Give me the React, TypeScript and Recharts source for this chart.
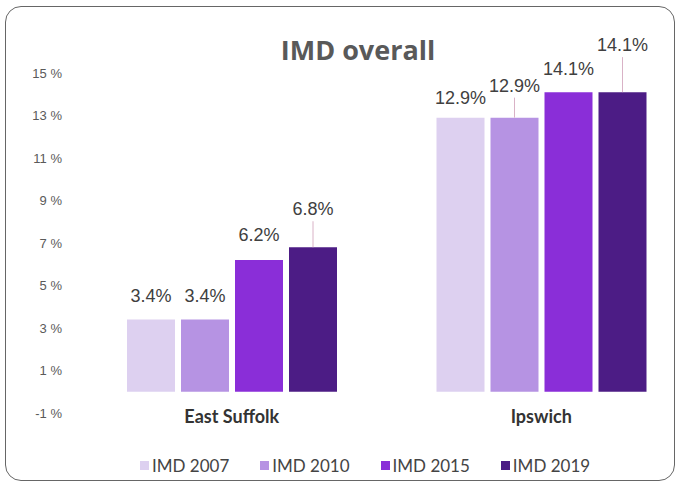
import { BarChart, Bar, XAxis, YAxis, LabelList } from "recharts";

const areas = ["East Suffolk", "Ipswich"];
const imd2007 = [3.4, 12.9];
const imd2010 = [3.4, 12.9];
const imd2015 = [6.2, 14.1];
const imd2019 = [6.8, 14.1];
const yTicks = [-1, 1, 3, 5, 7, 9, 11, 13, 15];

// lift = extra px above the bar for each label, leader line drawn when big
const series = [
  { key: "imd2007", name: "IMD 2007", color: "#ddd0f0", lift: [4, 0] },
  { key: "imd2010", name: "IMD 2010", color: "#b693e3", lift: [4, 12] },
  { key: "imd2015", name: "IMD 2015", color: "#8a2ed8", lift: [5, 3] },
  { key: "imd2019", name: "IMD 2019", color: "#4c1c85", lift: [18, 27] },
];

const data = areas.map((area, i) => ({
  area,
  imd2007: imd2007[i],
  imd2010: imd2010[i],
  imd2015: imd2015[i],
  imd2019: imd2019[i],
}));

const makeLabel = (lift: number[]) => (props: any) => {
  const { x, y, width, value, index } = props;
  const cx = x + width / 2;
  const up = lift[index] || 0;
  const base = y - 14 - up;
  return (
    <g>
      {up >= 10 && <line x1={cx} x2={cx} y1={y} y2={base + 6} stroke="#d9b2c6" strokeWidth={1} />}
      <text x={cx} y={base} textAnchor="middle" fontFamily="Liberation Sans, Arial, sans-serif" fontSize={18} fill="#404040">
        {value.toFixed(1)}%
      </text>
    </g>
  );
};

export default function App() {
  return (
    <div style={{ position: "fixed", left: 0, top: 0, width: 680, height: 487, overflow: "hidden", background: "#fff" }}>
      <div
        style={{
          position: "absolute",
          left: 5,
          top: 6,
          width: 668,
          height: 473,
          border: "1.5px solid #666",
          borderRadius: 16,
        }}
      />
      <div
        style={{
          position: "absolute",
          left: 0,
          width: 716,
          top: 31,
          textAlign: "center",
          fontFamily: "'Open Sans', sans-serif",
          fontWeight: 700,
          fontSize: 27,
          color: "#595959",
        }}
      >
        IMD overall
      </div>
      <div style={{ position: "absolute", left: 0, top: 0 }}>
        <BarChart
          width={720}
          height={487}
          data={data}
          margin={{ top: 73, right: 24, left: 0, bottom: 44 }}
          barSize={48}
          barGap={6}
        >
          <XAxis
            dataKey="area"
            height={30}
            axisLine={false}
            tickLine={false}
            tick={{ fontFamily: "Lato, sans-serif", fontWeight: 700, fontSize: 18, fill: "#333" }}
            tickMargin={-9}
          />
          <YAxis
            width={77}
            domain={[-1, 15]}
            ticks={yTicks}
            axisLine={false}
            tickLine={false}
            tickMargin={9}
            tickFormatter={(v: number) => `${v} %`}
            tick={{ fontFamily: "Liberation Sans, Arial, sans-serif", fontSize: 13, fill: "#5a5a5a" }}
          />
          {series.map((s) => (
            <Bar key={s.key} dataKey={s.key} name={s.name} fill={s.color} isAnimationActive={false}>
              <LabelList dataKey={s.key} content={makeLabel(s.lift)} />
            </Bar>
          ))}
        </BarChart>
      </div>
      <div
        style={{
          position: "absolute",
          left: 140,
          top: 455,
          display: "flex",
          gap: 31,
          fontFamily: "Lato, sans-serif",
          fontSize: 17,
          color: "#444",
        }}
      >
        {series.map((s) => (
          <div key={s.key} style={{ display: "flex", alignItems: "center" }}>
            <span style={{ width: 9, height: 9, background: s.color, marginRight: 3, display: "inline-block" }} />
            {s.name}
          </div>
        ))}
      </div>
    </div>
  );
}
